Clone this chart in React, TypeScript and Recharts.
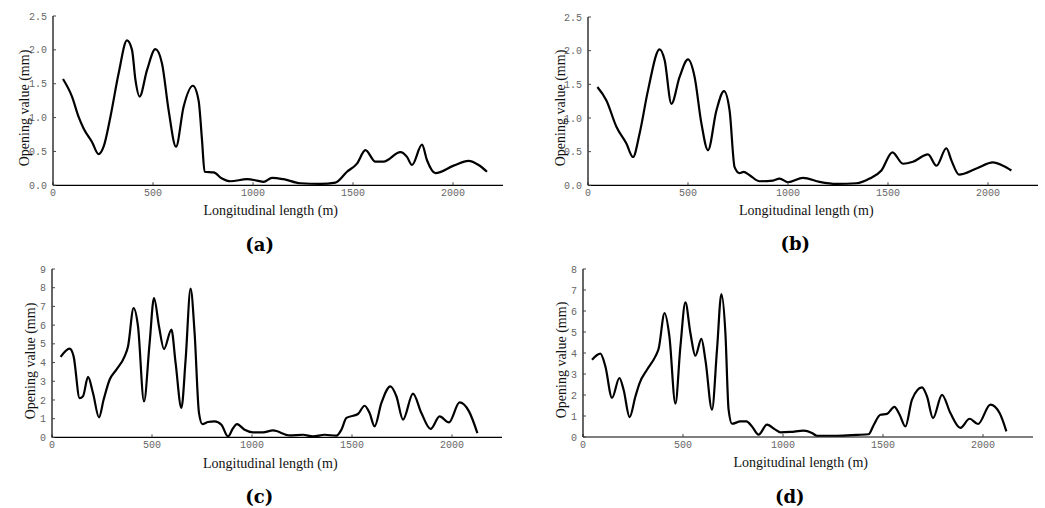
import React from 'react';
import { LineChart, Line, XAxis, YAxis } from 'recharts';

// (a)
const aLength = [50, 95, 128, 153, 195, 228, 253, 287, 328, 370, 395, 412, 433, 470, 512, 545, 578, 615, 653, 700, 728, 745, 758, 803, 845, 887, 970, 1020, 1053, 1095, 1153, 1237, 1337, 1412, 1470, 1520, 1562, 1612, 1653, 1737, 1770, 1795, 1845, 1870, 1912, 2003, 2078, 2128, 2170];
const aOpening = [1.57, 1.31, 1.01, 0.84, 0.64, 0.46, 0.57, 1.01, 1.65, 2.14, 2.0, 1.56, 1.31, 1.7, 2.01, 1.8, 1.11, 0.57, 1.16, 1.47, 1.25, 0.67, 0.2, 0.19, 0.1, 0.06, 0.09, 0.07, 0.05, 0.11, 0.09, 0.03, 0.02, 0.04, 0.2, 0.32, 0.52, 0.35, 0.35, 0.49, 0.42, 0.3, 0.6, 0.37, 0.18, 0.29, 0.36, 0.3, 0.2];

// (b)
const bLength = [47, 92, 142, 192, 225, 258, 300, 358, 383, 417, 458, 500, 533, 567, 600, 642, 680, 708, 733, 758, 778, 808, 858, 925, 958, 1000, 1075, 1158, 1242, 1342, 1408, 1467, 1522, 1575, 1625, 1700, 1742, 1792, 1817, 1855, 1942, 2025, 2075, 2117];
const bOpening = [1.46, 1.26, 0.87, 0.62, 0.42, 0.77, 1.41, 2.02, 1.86, 1.21, 1.61, 1.87, 1.61, 0.92, 0.52, 1.11, 1.4, 1.11, 0.27, 0.18, 0.2, 0.15, 0.06, 0.07, 0.1, 0.045, 0.11, 0.05, 0.02, 0.03, 0.1, 0.22, 0.49, 0.32, 0.35, 0.46, 0.29, 0.55, 0.37, 0.16, 0.25, 0.34, 0.29, 0.22];

// (c)
const cLength = [43, 88, 108, 138, 155, 180, 205, 235, 258, 288, 322, 363, 380, 408, 430, 460, 488, 510, 535, 560, 597, 618, 647, 668, 693, 713, 735, 752, 780, 813, 847, 880, 905, 925, 963, 1005, 1055, 1105, 1188, 1255, 1305, 1363, 1422, 1447, 1472, 1530, 1563, 1588, 1613, 1647, 1692, 1722, 1755, 1805, 1847, 1893, 1938, 1985, 2038, 2085, 2127];
const cOpening = [4.3, 4.74, 4.33, 2.1, 2.2, 3.23, 2.37, 1.07, 2.01, 3.08, 3.62, 4.33, 4.86, 6.91, 5.93, 1.92, 5.04, 7.45, 5.93, 4.72, 5.76, 3.98, 1.57, 4.15, 7.95, 5.58, 1.3, 0.71, 0.82, 0.86, 0.68, 0.05, 0.49, 0.71, 0.41, 0.27, 0.27, 0.37, 0.11, 0.14, 0.05, 0.14, 0.09, 0.41, 1.04, 1.25, 1.69, 1.3, 0.59, 1.84, 2.73, 2.2, 0.95, 2.34, 1.3, 0.45, 1.12, 0.8, 1.87, 1.39, 0.23];

// (d)
const dLength = [45, 87, 112, 145, 182, 203, 233, 262, 283, 320, 362, 378, 408, 432, 462, 487, 512, 537, 562, 592, 613, 645, 670, 692, 712, 728, 745, 787, 817, 845, 878, 920, 962, 987, 1037, 1103, 1145, 1170, 1270, 1370, 1428, 1453, 1487, 1520, 1557, 1583, 1612, 1645, 1695, 1720, 1750, 1795, 1837, 1887, 1933, 1975, 2037, 2083, 2117];
const dOpening = [3.68, 3.97, 3.36, 1.86, 2.81, 2.25, 0.95, 1.93, 2.57, 3.2, 3.84, 4.2, 5.9, 4.79, 1.59, 4.3, 6.41, 4.95, 3.87, 4.67, 3.6, 1.3, 4.16, 6.81, 4.95, 1.3, 0.63, 0.74, 0.74, 0.5, 0.11, 0.59, 0.35, 0.22, 0.24, 0.3, 0.19, 0.06, 0.06, 0.1, 0.13, 0.56, 1.06, 1.1, 1.43, 1.06, 0.5, 1.78, 2.36, 1.93, 0.9, 2.01, 1.14, 0.43, 0.87, 0.62, 1.54, 1.14, 0.27];

const xTicks = [0, 500, 1000, 1500, 2000];
const ticks25 = [0, 0.5, 1, 1.5, 2, 2.5];
const ticks9 = [0, 1, 2, 3, 4, 5, 6, 7, 8, 9];
const ticks8 = [0, 1, 2, 3, 4, 5, 6, 7, 8];

const toRows = (xs: number[], ys: number[]) => xs.map((x, i) => ({ x, y: ys[i] }));

const tickStyle = { fontFamily: '"Liberation Mono", monospace', fontSize: 10, fill: '#666' };
const titleFont = '"Liberation Serif", "Times New Roman", serif';

interface PanelProps {
  axisX: number;
  top: number;
  bottom: number;
  lengths: number[];
  values: number[];
  yTicks: number[];
  decimals: number;
  yTitleGap: number;
  tag: string;
  tagY: number;
}

const Panel = ({ axisX, top, bottom, lengths, values, yTicks, decimals, yTitleGap, tag, tagY }: PanelProps) => {
  const yw = 60;
  const plotW = 450;
  const plotH = bottom - top;
  const data = toRows(lengths, values);
  const mid = (top + bottom) / 2 + 7;
  return (
    <>
      <div style={{ position: 'absolute', left: axisX - yw, top: top - 10 }}>
        <LineChart
          width={yw + plotW + 15}
          height={plotH + 40}
          data={data}
          margin={{ top: 10, right: 15, bottom: 10, left: 0 }}
        >
          <XAxis
            dataKey="x"
            type="number"
            domain={[0, 2250]}
            ticks={xTicks}
            height={20}
            tickSize={-3}
            tickMargin={7}
            tick={tickStyle}
            axisLine={{ stroke: '#000', strokeWidth: 1.2 }}
            tickLine={{ stroke: '#444' }}
          />
          <YAxis
            type="number"
            domain={[0, yTicks[yTicks.length - 1]]}
            ticks={yTicks}
            width={yw}
            tickSize={-3}
            tickMargin={9}
            tick={tickStyle}
            tickFormatter={(v: number) => v.toFixed(decimals)}
            axisLine={{ stroke: '#000', strokeWidth: 1.2 }}
            tickLine={{ stroke: '#444' }}
          />
          <Line
            type="monotone"
            dataKey="y"
            stroke="#000"
            strokeWidth={2.2}
            dot={false}
            isAnimationActive={false}
          />
        </LineChart>
      </div>
      <div
        style={{
          position: 'absolute',
          left: axisX + 218 - 100,
          width: 200,
          top: bottom + 26 - 9,
          textAlign: 'center',
          fontFamily: titleFont,
          fontSize: 14,
          lineHeight: '18px',
          color: '#111',
          whiteSpace: 'nowrap',
        }}
      >
        Longitudinal length (m)
      </div>
      <div
        style={{
          position: 'absolute',
          left: axisX - yTitleGap - 100,
          top: mid - 9,
          width: 200,
          textAlign: 'center',
          fontFamily: titleFont,
          fontSize: 14,
          lineHeight: '18px',
          color: '#111',
          whiteSpace: 'nowrap',
          transform: 'rotate(-90deg)',
        }}
      >
        Opening value (mm)
      </div>
      <div
        style={{
          position: 'absolute',
          left: axisX + 207 - 40,
          width: 80,
          top: tagY - 12,
          textAlign: 'center',
          fontFamily: '"DejaVu Serif", serif',
          fontWeight: 'bold',
          fontSize: 18,
          lineHeight: '24px',
          color: '#000',
        }}
      >
        {tag}
      </div>
    </>
  );
};

export default function App() {
  return (
    <div style={{ position: 'absolute', left: 0, top: 0, width: 1045, height: 508, background: '#fff' }}>
      <Panel axisX={52.7} top={16} bottom={185.3} lengths={aLength} values={aOpening} yTicks={ticks25} decimals={1} yTitleGap={27.7} tag="(a)" tagY={245} />
      <Panel axisX={588.3} top={16.7} bottom={185} lengths={bLength} values={bOpening} yTicks={ticks25} decimals={1} yTitleGap={27.7} tag="(b)" tagY={244} />
      <Panel axisX={52.3} top={269.3} bottom={437.7} lengths={cLength} values={cOpening} yTicks={ticks9} decimals={0} yTitleGap={21} tag="(c)" tagY={497} />
      <Panel axisX={582.7} top={269.3} bottom={437.3} lengths={dLength} values={dOpening} yTicks={ticks8} decimals={0} yTitleGap={21} tag="(d)" tagY={497} />
    </div>
  );
}
